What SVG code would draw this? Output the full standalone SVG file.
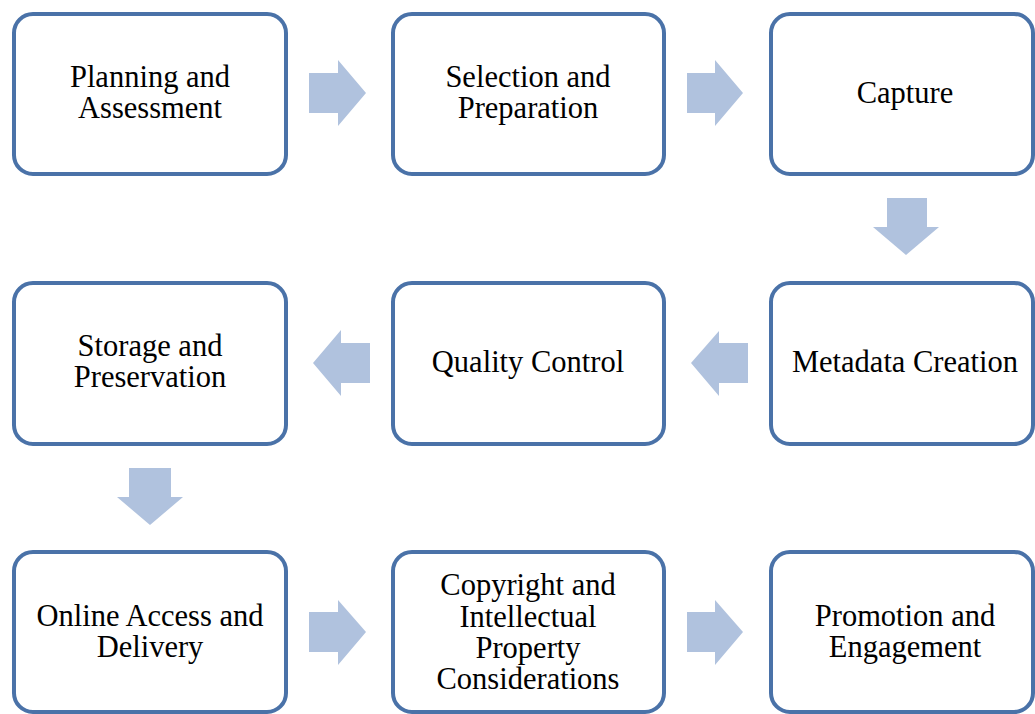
<svg xmlns="http://www.w3.org/2000/svg" width="1035" height="714" viewBox="0 0 1035 714">
<style>
.box{fill:#fff;stroke:#4a72a8;stroke-width:4}
.lbl{font-family:"Liberation Serif","Times New Roman",serif;font-size:30.5px;fill:#000;text-anchor:middle}
.arr{fill:#b0c2de}
</style>
<rect width="1035" height="714" fill="#fff"/>
<g id="connectors">
<polygon class="arr" points="309,73 338,73 338,60 366,93 338,126 338,113 309,113"/>
<polygon class="arr" points="687,73 715,73 715,60 743,93 715,126 715,113 687,113"/>
<polygon class="arr" points="887,198 927,198 927,227 939,227 906,255 873,227 887,227"/>
<polygon class="arr" points="748,343 719,343 719,331 691,363 719,396 719,383 748,383"/>
<polygon class="arr" points="370,343 341,343 341,330 313,363 341,396 341,383 370,383"/>
<polygon class="arr" points="129,468 171,468 171,497 183,497 150,525 117,497 129,497"/>
<polygon class="arr" points="309,612 338,612 338,600 366,632 338,665 338,652 309,652"/>
<polygon class="arr" points="687,612 715,612 715,600 743,632 715,665 715,652 687,652"/>
</g>
<g id="n1"><rect class="box" x="14" y="14" width="272" height="160" rx="19"/><text class="lbl"><tspan x="150" y="87">Planning and</tspan><tspan x="150" y="118">Assessment</tspan></text></g>
<g id="n2"><rect class="box" x="393" y="14" width="271" height="160" rx="19"/><text class="lbl"><tspan x="528" y="87">Selection and</tspan><tspan x="528" y="118">Preparation</tspan></text></g>
<g id="n3"><rect class="box" x="771" y="14" width="262" height="160" rx="19"/><text class="lbl" x="905" y="103">Capture</text></g>
<g id="n4"><rect class="box" x="771" y="283" width="262" height="161" rx="19"/><text class="lbl" x="905" y="372">Metadata Creation</text></g>
<g id="n5"><rect class="box" x="393" y="283" width="271" height="161" rx="19"/><text class="lbl" x="528" y="372">Quality Control</text></g>
<g id="n6"><rect class="box" x="14" y="283" width="272" height="161" rx="19"/><text class="lbl"><tspan x="150" y="356">Storage and</tspan><tspan x="150" y="387">Preservation</tspan></text></g>
<g id="n7"><rect class="box" x="14" y="552" width="272" height="160" rx="19"/><text class="lbl"><tspan x="150" y="626">Online Access and</tspan><tspan x="150" y="657">Delivery</tspan></text></g>
<g id="n8"><rect class="box" x="393" y="552" width="271" height="160" rx="19"/><text class="lbl"><tspan x="528" y="595">Copyright and</tspan><tspan x="528" y="627">Intellectual</tspan><tspan x="528" y="658">Property</tspan><tspan x="528" y="689">Considerations</tspan></text></g>
<g id="n9"><rect class="box" x="771" y="552" width="262" height="160" rx="19"/><text class="lbl"><tspan x="905" y="626">Promotion and</tspan><tspan x="905" y="657">Engagement</tspan></text></g>
</svg>
